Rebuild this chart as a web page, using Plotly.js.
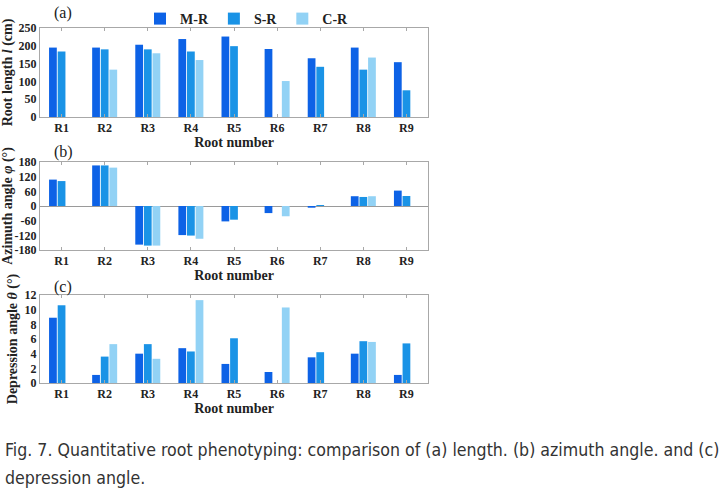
<!DOCTYPE html>
<html><head><meta charset="utf-8">
<script src="https://cdn.plot.ly/plotly-3.0.1.min.js"></script>
<style>html,body{margin:0;padding:0;background:#fff;}#chart{width:728px;height:495px;}</style>
</head><body><div id="chart"></div>
<script>
const categories = ['R1','R2','R3','R4','R5','R6','R7','R8','R9'];
const seriesNames = ['M-R','S-R','C-R'];
const colors = ['#0d62e6','#1a93e6','#92d2f5'];

const lengthMR = [195,195,203,219,226,191,165,195,154];
const lengthSR = [184,190,190,184,199,null,141,133,75];
const lengthCR = [null,133,179,160,null,101,null,167,null];

const azimMR = [108,166,-158,-119,-63,-29,-7,40,63];
const azimSR = [102,166,-162,-121,-56,null,4,37,41];
const azimCR = [null,157,-162,-134,null,-42,null,40,null];

const deprMR = [8.9,1.1,4.0,4.75,2.6,1.5,3.5,4.0,1.1];
const deprSR = [10.6,3.6,5.3,4.3,6.1,null,4.2,5.7,5.4];
const deprCR = [null,5.3,3.3,11.3,null,10.3,null,5.6,null];

const lenTicks = [0,50,100,150,200,250];
const azTicks = [-180,-120,-60,0,60,120,180];
const deTicks = [0,2,4,6,8,10,12];

const serif = 'Liberation Serif, Times New Roman, serif';
const tf = {family:serif, size:12, color:'#222'};
const titleFont = {family:serif, size:14, color:'#222'};

const groups = [
  [lengthMR,lengthSR,lengthCR],
  [azimMR,azimSR,azimCR],
  [deprMR,deprSR,deprCR]
];
const traces = [];
groups.forEach((g,gi)=>{
  g.forEach((vals,si)=>{
    traces.push({
      type:'bar', x:categories, y:vals, name:'<b>'+seriesNames[si]+'</b>',
      marker:{color:colors[si]},
      xaxis: gi===0?'x':'x'+(gi+1), yaxis: gi===0?'y':'y'+(gi+1),
      showlegend: gi===0, legendgroup:seriesNames[si],
      hoverinfo:'y'
    });
  });
});

function xax(anchor){
  return {domain:[40/728,428/728], anchor:anchor, type:'category',
    showline:true, linecolor:'#a8a8a8', linewidth:1, mirror:'ticks',
    ticks:'inside', ticklen:3, tickcolor:'#a8a8a8',
    tickfont:tf, tickprefix:'<b>', ticksuffix:'</b>',
    title:{text:'<b>Root number</b>', font:titleFont, standoff:1},
    fixedrange:true};
}
function yax(anchor, dom, range, ticks, title){
  return {domain:dom, anchor:anchor, range:range, tickvals:ticks,
    ticktext:ticks.map(v=>'<b>'+v+'</b>'),
    showline:true, linecolor:'#a8a8a8', linewidth:1, mirror:'ticks',
    ticks:'', showgrid:false,
    zeroline:true, zerolinecolor:'#9a9a9a', zerolinewidth:1,
    tickfont:tf, title:{text:title, font:titleFont, standoff:3},
    automargin:false, fixedrange:true};
}

const layout = {
  width:728, height:495, margin:{l:0,r:0,t:0,b:0},
  paper_bgcolor:'#fff', plot_bgcolor:'#fff',
  barmode:'group', bargap:0.4, bargroupgap:0.1,
  showlegend:true,
  legend:{orientation:'h', x:140/728, y:1-3/495, xanchor:'left', yanchor:'top',
    font:{family:serif, size:14, color:'#222'},
    itemwidth:30, tracegroupgap:0, bgcolor:'rgba(0,0,0,0)'},
  xaxis: xax('y'),
  yaxis: yax('x',[1-117/495,1-28/495],[0,250],lenTicks,'<b>Root length <i>l</i> (cm)</b>'),
  xaxis2: xax('y2'),
  yaxis2: yax('x2',[1-250/495,1-162/495],[-180,180],azTicks,'<b>Azimuth angle <i>φ</i> (°)</b>'),
  xaxis3: xax('y3'),
  yaxis3: yax('x3',[1-383/495,1-295/495],[0,12],deTicks,'<b>Depression angle <i>θ</i> (°)</b>'),
  annotations:[
    {text:'(a)', x:52/728, y:1-13/495, xref:'paper', yref:'paper', xanchor:'left', yanchor:'middle', showarrow:false, font:{family:serif, size:16, color:'#222'}},
    {text:'(b)', x:52/728, y:1-152/495, xref:'paper', yref:'paper', xanchor:'left', yanchor:'middle', showarrow:false, font:{family:serif, size:16, color:'#222'}},
    {text:'(c)', x:52/728, y:1-287/495, xref:'paper', yref:'paper', xanchor:'left', yanchor:'middle', showarrow:false, font:{family:serif, size:16, color:'#222'}},
    {text:'Fig. 7. Quantitative root phenotyping: comparison of (a) length. (b) azimuth angle. and (c)', x:3/728, y:1-450/495, xref:'paper', yref:'paper', xanchor:'left', yanchor:'middle', showarrow:false, font:{family:'DejaVu Sans Condensed, Noto Sans, sans-serif', size:17.6, color:'#333'}},
    {text:'depression angle.', x:3/728, y:1-478/495, xref:'paper', yref:'paper', xanchor:'left', yanchor:'middle', showarrow:false, font:{family:'DejaVu Sans Condensed, Noto Sans, sans-serif', size:17.6, color:'#333'}}
  ]
};
Plotly.newPlot('chart', traces, layout, {displayModeBar:false, staticPlot:true});
</script></body></html>
